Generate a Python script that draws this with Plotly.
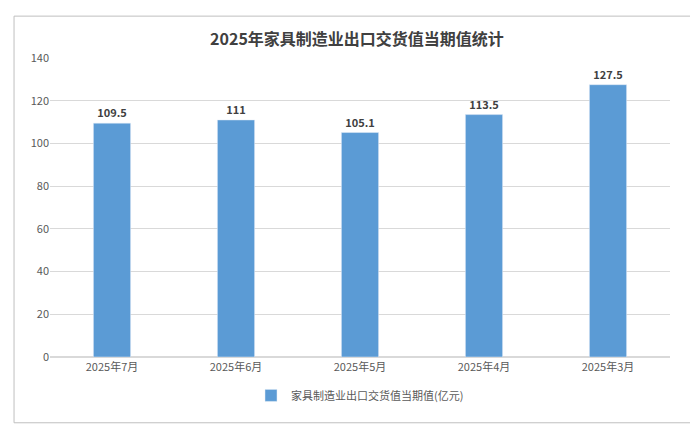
import plotly.graph_objects as go

categories = ["2025年7月", "2025年6月", "2025年5月", "2025年4月", "2025年3月"]
values = [109.5, 111, 105.1, 113.5, 127.5]
labels = ["<b>109.5</b>", "<b>111</b>", "<b>105.1</b>", "<b>113.5</b>", "<b>127.5</b>"]
series_name = "家具制造业出口交货值当期值(亿元)"
title = "2025年家具制造业出口交货值当期值统计"

fig = go.Figure(go.Bar(
    x=categories, y=values, name=series_name, text=labels,
    textposition="outside", marker_color="#5B9BD5", width=0.3,
    textfont=dict(size=11, color="#404040", family="Noto Sans CJK SC"),
    cliponaxis=False, showlegend=True,
))
fig.update_layout(
    width=698, height=431,
    margin=dict(l=42, r=36, t=50, b=82),
    paper_bgcolor="white", plot_bgcolor="white",
    title=dict(text="<b>" + title + "</b>", x=0.5, xanchor="center", y=0.94,
               font=dict(size=16, color="#404040", family="Noto Sans CJK SC")),
    font=dict(family="Noto Sans CJK SC", color="#595959", size=11),
    yaxis=dict(range=[0, 140], dtick=20, gridcolor="#D9D9D9", zeroline=True,
               zerolinecolor="#D9D9D9", showline=False, ticks="", tickfont=dict(size=11)),
    xaxis=dict(showline=True, linecolor="#D9D9D9", tickfont=dict(size=11)),
    legend=dict(orientation="h", x=0.5, xanchor="center", y=-0.08, yanchor="top",
                font=dict(size=11, color="#595959")),
    shapes=[dict(type="rect", xref="paper", yref="paper", x0=-0.058, x1=1.035,
                 y0=-0.22, y1=1.14, line=dict(color="#BFBFBF", width=1))],
)
fig.write_html("out.html")
